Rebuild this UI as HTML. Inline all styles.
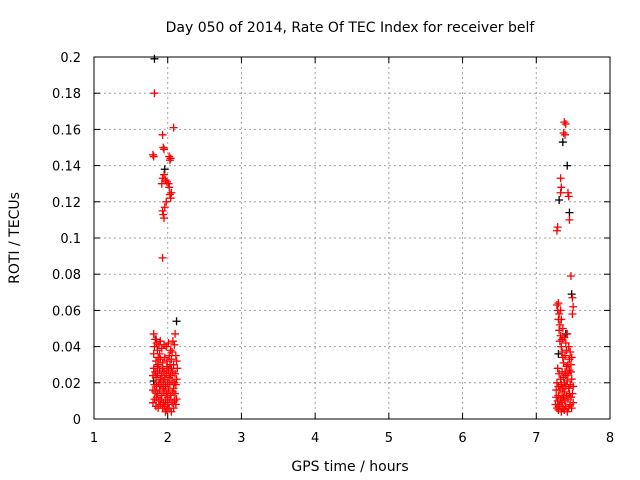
<!DOCTYPE html>
<html><head><meta charset="utf-8"><style>
body{margin:0;background:#fff}
svg{display:block;font-family:"DejaVu Sans","Liberation Sans",sans-serif;font-size:13px}
.big{font-size:14px}
</style></head><body>
<svg id="chart" width="640" height="480">
<text class="big" x="350" y="32" text-anchor="middle">Day 050 of 2014, Rate Of TEC Index for receiver belf</text>
<text class="big" x="350" y="471" text-anchor="middle">GPS time / hours</text>
<text class="big" transform="translate(19,238) rotate(-90)" text-anchor="middle">ROTI / TECUs</text>
<g id="grid"></g><g id="axes"></g><g id="pts"></g>
</svg>
<script>
const xTicks=[1,2,3,4,5,6,7,8];
const yTicks=[0,0.02,0.04,0.06,0.08,0.1,0.12,0.14,0.16,0.18,0.2];
const yTickLabels=["0","0.02","0.04","0.06","0.08","0.1","0.12","0.14","0.16","0.18","0.2"];
const redTimes=[1.82,1.80,1.81,1.93,1.94,1.95,2.08,2.02,2.03,2.04,1.95,1.93,1.92,1.97,1.99,2.01,2.02,2.03,2.05,2.04,1.98,1.96,1.93,1.94,1.95,1.93,
1.81,1.83,1.82,1.85,1.88,1.90,1.86,1.89,1.92,1.95,1.98,2.01,2.04,2.07,2.10,2.09,2.11,2.12,2.08,2.05,2.02,1.99,1.96,1.93,1.90,1.87,1.84,1.81,1.80,1.83,1.86,1.89,1.92,1.95,1.98,2.01,2.04,2.07,2.10,2.12,2.09,2.06,2.03,2.00,1.97,1.94,1.91,1.88,1.85,1.82,1.80,1.83,1.86,1.89,1.92,1.95,1.98,2.01,2.04,2.07,2.10,2.12,2.09,2.06,2.03,2.00,1.97,1.94,1.91,1.88,1.85,1.82,1.80,1.84,1.87,1.90,1.93,1.96,1.99,2.02,2.05,2.08,2.11,1.81,1.84,1.87,1.93,1.96,1.99,2.02,2.05,2.08,2.11,1.94,1.97,2.00,2.03,1.90,1.86,2.06,2.13,
7.38,7.40,7.37,7.39,7.33,7.34,7.33,7.43,7.44,7.45,7.29,7.28,7.47,7.49,7.50,7.49,
7.28,7.29,7.30,7.31,7.30,7.32,7.31,7.33,7.32,7.34,7.35,7.36,7.37,7.38,7.40,7.42,7.44,7.46,7.48,7.47,7.45,7.43,7.41,7.39,7.37,7.35,7.33,7.31,7.29,7.28,7.30,7.32,7.34,7.36,7.38,7.40,7.42,7.44,7.46,7.48,7.50,7.49,7.47,7.45,7.43,7.41,7.39,7.37,7.35,7.33,7.31,7.29,7.27,7.26,7.28,7.30,7.32,7.34,7.36,7.38,7.40,7.42,7.44,7.46,7.48,7.50,7.27,7.39,7.41,7.36,7.34,7.33,7.35,7.38,7.43,7.45,7.30,7.47,7.35,7.40];
const redRoti=[0.180,0.146,0.145,0.157,0.150,0.149,0.161,0.145,0.143,0.144,0.135,0.133,0.130,0.132,0.131,0.130,0.128,0.124,0.125,0.122,0.120,0.117,0.115,0.113,0.111,0.089,
.047,.044,.040,.042,.041,.043,.038,.036,.039,.041,.040,.042,.038,.043,.047,.041,.035,.032,.030,.033,.035,.032,.034,.031,.033,.030,.032,.028,.024,.026,.025,.027,.024,.026,.025,.027,.024,.026,.025,.022,.020,.021,.019,.020,.018,.021,.019,.020,.018,.019,.016,.015,.014,.016,.013,.015,.014,.016,.013,.015,.014,.011,.010,.009,.011,.008,.010,.009,.011,.010,.012,.011,.009,.007,.006,.008,.006,.007,.005,.006,.004,.006,.008,.036,.023,.034,.028,.022,.029,.023,.028,.017,.019,.017,.004,.012,.030,.022,.029,.037,.028,
0.164,0.163,0.158,0.157,0.133,0.128,0.125,0.125,0.123,0.110,0.106,0.104,0.079,0.067,0.062,0.058,
.063,.060,.064,.058,.055,.052,.049,.046,.043,.040,.037,.034,.031,.045,.042,.047,.040,.037,.034,.030,.027,.025,.029,.026,.023,.026,.022,.025,.028,.020,.018,.016,.019,.017,.020,.018,.021,.017,.019,.022,.018,.014,.012,.014,.011,.013,.010,.012,.009,.011,.008,.010,.012,.008,.006,.005,.007,.004,.006,.005,.007,.004,.006,.008,.006,.009,.016,.035,.038,.050,.055,.060,.044,.015,.030,.033,.013,.026,.013,.024];
const blackTimes=[1.82,1.96,2.12,1.81,1.84,7.36,7.42,7.31,7.45,7.48,7.30,7.40];
const blackRoti=[0.199,0.138,0.054,0.021,0.044,0.153,0.140,0.121,0.114,0.069,0.036,0.047];
const X0=94,X1=610,Y0=419,Y1=57;
const xs=v=>X0+(v-1)/7*(X1-X0);
const ys=v=>Y0-v/0.2*(Y0-Y1);
const NS="http://www.w3.org/2000/svg";
function mk(tag,attrs,parent){const e=document.createElementNS(NS,tag);for(const k in attrs)e.setAttribute(k,attrs[k]);parent.appendChild(e);return e;}
const grid=document.getElementById('grid'),axes=document.getElementById('axes'),pts=document.getElementById('pts');
xTicks.forEach((t,i)=>{const x=xs(t);
 if(i>0&&i<xTicks.length-1){const g=mk('line',{x1:x,x2:x,y1:Y0,y2:Y1,stroke:'#a0a0a0','stroke-dasharray':'2,3'},grid);}
 mk('line',{x1:x,x2:x,y1:Y0,y2:Y0-6,stroke:'#000'},axes);mk('line',{x1:x,x2:x,y1:Y1,y2:Y1+6,stroke:'#000'},axes);
 const l=mk('text',{x:x,y:Y0+23,'text-anchor':'middle'},axes);l.textContent=t;
 });
yTicks.forEach((t,i)=>{const y=ys(t);
 if(i>0&&i<yTicks.length-1){const g=mk('line',{x1:X0,x2:X1,y1:y,y2:y,stroke:'#a0a0a0','stroke-dasharray':'2,3'},grid);}
 mk('line',{x1:X0,x2:X0+6,y1:y,y2:y,stroke:'#000'},axes);mk('line',{x1:X1,x2:X1-6,y1:y,y2:y,stroke:'#000'},axes);
 const l=mk('text',{x:X0-13,y:y+5,'text-anchor':'end'},axes);l.textContent=yTickLabels[i];
 });
const fr=mk('rect',{x:X0,y:Y1,width:X1-X0,height:Y0-Y1,fill:'none',stroke:'#000'},axes);

function plus(x,y,c){const p=mk('path',{d:`M${x-4},${y}h8M${x},${y-4}v8`,stroke:c,'stroke-width':1.3,fill:'none'},pts);return p;}
blackTimes.forEach((t,i)=>{const p=plus(xs(t),ys(blackRoti[i]),'#000');
 });
redTimes.forEach((t,i)=>{const p=plus(xs(t),ys(redRoti[i]),'#f00');
 });
</script>
</body></html>
